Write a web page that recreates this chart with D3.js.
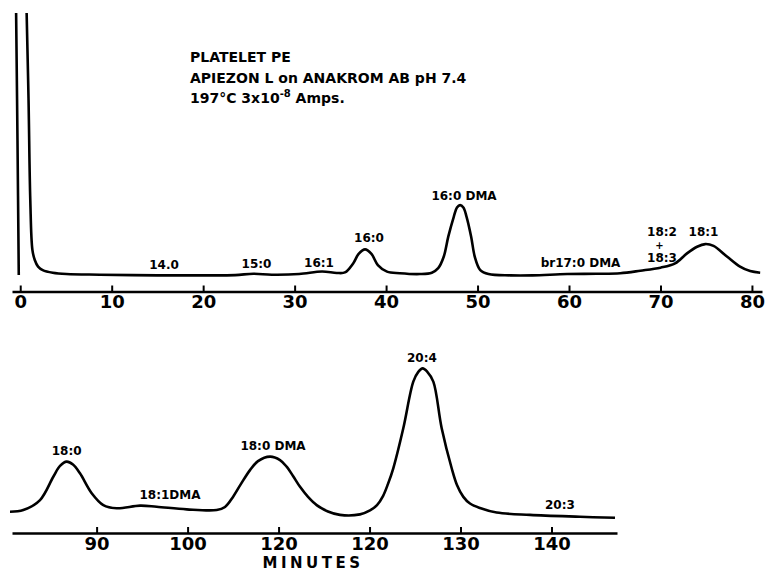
<!DOCTYPE html>
<html>
<head>
<meta charset="utf-8">
<script src="https://cdn.jsdelivr.net/npm/d3@7"></script>
<style>
  body { margin: 0; background: #fff; }
  svg { display: block; }
  .axis path, .axis line { stroke: #000; }
  .axis text { font-family: "DejaVu Sans", sans-serif; fill: #000; }
</style>
</head>
<body>
<div id="chart"></div>
<script>
// top trace (0-81 min), detector response in arbitrary units
const topMinutes = [-0.16, -0.30, -0.45, -0.52, 0.58, 0.70, 0.91, 1.10, 1.33, 1.59, 1.95, 2.46, 3.56, 5.05, 8.7,
  15, 20, 23.5, 25.5, 27.5, 30.5, 33, 34.6, 35.5, 36.4, 37, 37.7, 38.4, 39.1, 40.1, 41.5,
  43.7, 45.0, 45.7, 46.3, 46.8, 47.4, 47.75, 48.1, 48.45, 48.8, 49.3, 49.7, 50.3, 51.2, 53.6,
  56, 59.8, 63, 65.6, 67.8, 70, 71.6, 72.9, 74.0, 74.9, 75.8, 77.3, 78.7, 79.8, 80.9];
const topResponse = [1.1, 52, 100, 120, 120, 100, 67, 29.4, 10.6, 6.8, 4.3, 3.0, 2.0, 1.5, 1.25,
  1.0, 1.0, 1.1, 1.6, 1.25, 1.5, 2.45, 1.9, 2.1, 5.5, 9.1, 10.8, 9.1, 4.9, 2.4, 1.8,
  1.5, 2.0, 3.7, 8.0, 15.6, 23.1, 26.6, 27.5, 26.6, 23.1, 15.6, 8.0, 3.0, 1.5, 1.0,
  1.0, 1.5, 1.6, 1.8, 2.75, 3.9, 5.5, 9.3, 11.8, 12.8, 12.1, 8.0, 4.3, 2.6, 2.0];

// bottom trace (80-147 min)
const bottomMinutes = [80.48, 81.94, 83.78, 85.24, 85.98, 86.71, 87.40, 88.17, 89.46, 90.74, 92.21,
  94.77, 96.6, 99.9, 103.2, 104.11, 104.99, 105.87, 106.86, 107.74, 109.06, 110.16, 110.89,
  111.59, 112.36, 113.24, 114.19, 115.43, 116.75, 118.95, 120.05, 120.82, 121.48, 122.03,
  122.61, 123.71, 124.81, 125.36, 125.84, 126.35, 127.01, 127.93, 129.03, 129.61, 130.31,
  131.04, 132.14, 133.97, 137.64, 143.13, 146.98];
const bottomResponse = [3.5, 4.15, 7.9, 16.7, 20.8, 22.4, 21.3, 18.0, 10.5, 6.0, 4.8,
  5.8, 5.4, 4.4, 4.15, 5.3, 9.1, 14.0, 19.2, 22.6, 24.3, 23.0, 20.5,
  17.0, 12.9, 9.1, 6.0, 3.6, 2.3, 2.5, 4.0, 6.0, 9.4, 14.0,
  19.9, 35.0, 52.6, 56.3, 57.6, 56.3, 52.6, 35.0, 19.9, 13.6, 9.1,
  6.6, 4.9, 3.2, 2.3, 1.6, 1.2];

const topTicks = [0, 10, 20, 30, 40, 50, 60, 70, 80];
const bottomTicks = [90, 100, 110, 120, 130, 140];
const bottomTickLabels = ["90", "100", "120", "120", "130", "140"];

// peak labels: [text, minute, response, font size]
const topLabels = [
  ["14.0", 15.72, 3.4, 12], ["15:0", 25.83, 3.66, 12], ["16:1", 32.67, 4.04, 12], ["16:0", 38.13, 13.6, 12],
  ["16:0 DMA", 48.52, 29.4, 12], ["br17:0 DMA", 61.26, 4.15, 12], ["18:2", 70.17, 15.85, 12],
  ["+", 69.9, 11.1, 10], ["18:3", 70.17, 6.0, 12], ["18:1", 74.7, 16.0, 12]
];
const bottomLabels = [
  ["18:0", 86.71, 24.9, 12], ["18:1DMA", 98.07, 8.2, 12], ["18:0 DMA", 109.39, 26.8, 12],
  ["20:4", 125.76, 60.1, 12], ["20:3", 140.93, 4.5, 12]
];

var width = 770, height = 571;
var font = "DejaVu Sans, sans-serif";

var svg = d3.select("#chart").append("svg")
  .attr("width", width)
  .attr("height", height);

var xTop = d3.scaleLinear().domain([-0.9, 81.1]).range([12, 762]);
var yTop = d3.scaleLinear().domain([0, 100]).range([278, 13]);
var xBot = d3.scaleLinear().domain([80.7, 147.2]).range([12, 617]);
var yBot = d3.scaleLinear().domain([0, 100]).range([521, 256]);

svg.append("clipPath").attr("id", "clipTop")
  .append("rect").attr("x", 0).attr("y", 13).attr("width", width).attr("height", 290);

// header notes
var head = svg.append("g")
  .style("font-family", font)
  .style("font-weight", "bold")
  .style("font-size", "14px");
head.append("text").attr("x", 190).attr("y", 62).text("PLATELET PE");
head.append("text").attr("x", 190).attr("y", 83).text("APIEZON L on ANAKROM AB pH 7.4");
var t3 = head.append("text").attr("x", 190).attr("y", 103);
t3.append("tspan").text("197°C 3x10");
t3.append("tspan").attr("dy", -6).style("font-size", "10px").text("-8");
t3.append("tspan").attr("dy", 6).text(" Amps.");

function drawPanel(xs, ys, minutes, response, ticks, tickLabels, labels, axisY, clip) {
  var pts = minutes.map(function (m, i) { return [m, response[i]]; });
  var line = d3.line()
    .x(function (d) { return xs(d[0]); })
    .y(function (d) { return ys(d[1]); })
    .curve(d3.curveCatmullRom.alpha(0.5));

  var p = svg.append("path")
    .datum(pts)
    .attr("fill", "none")
    .attr("stroke", "#000")
    .attr("stroke-width", 2.6)
    .attr("stroke-linejoin", "round")
    .attr("d", line);
  if (clip) p.attr("clip-path", "url(#" + clip + ")");

  var axis = d3.axisBottom(xs)
    .tickValues(ticks)
    .tickSize(-6)
    .tickSizeOuter(0)
    .tickPadding(4);
  if (tickLabels) axis.tickFormat(function (d, i) { return tickLabels[i]; });

  var g = svg.append("g")
    .attr("class", "axis")
    .attr("transform", "translate(0," + axisY + ")")
    .call(axis);
  g.select(".domain").attr("stroke-width", 2.6);
  g.selectAll(".tick line").attr("stroke-width", 2);
  g.selectAll(".tick text")
    .style("font-size", "18px")
    .style("font-weight", "bold");

  svg.append("g")
    .style("font-family", font)
    .style("font-weight", "bold")
    .selectAll("text")
    .data(labels)
    .enter()
    .append("text")
    .attr("x", function (d) { return xs(d[1]); })
    .attr("y", function (d) { return ys(d[2]); })
    .attr("text-anchor", "middle")
    .style("font-size", function (d) { return d[3] + "px"; })
    .text(function (d) { return d[0]; });
}

drawPanel(xTop, yTop, topMinutes, topResponse, topTicks, null, topLabels, 291.5, "clipTop");
drawPanel(xBot, yBot, bottomMinutes, bottomResponse, bottomTicks, bottomTickLabels, bottomLabels, 533, null);

svg.append("text")
  .attr("x", 313)
  .attr("y", 568)
  .attr("text-anchor", "middle")
  .style("font-family", font)
  .style("font-weight", "bold")
  .style("font-size", "15px")
  .style("letter-spacing", "3.5px")
  .text("MINUTES");
</script>
</body>
</html>
